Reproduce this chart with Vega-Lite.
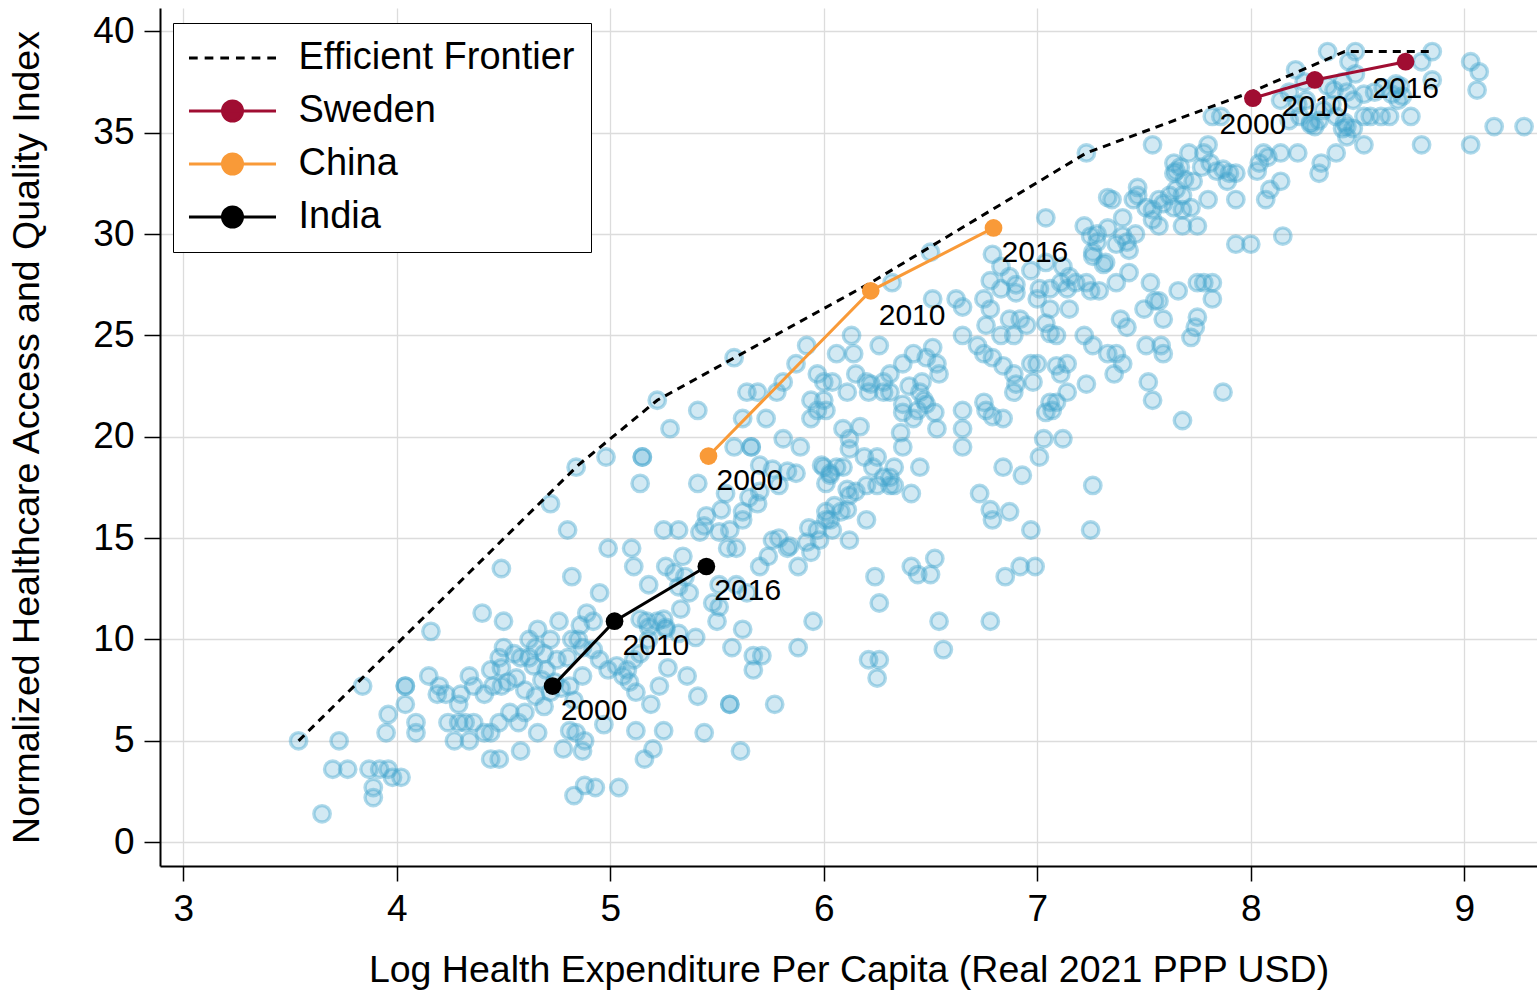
{
  "$schema": "https://vega.github.io/schema/vega-lite/v6.json",
  "width": 1377,
  "height": 858,
  "autosize": {"type": "none"},
  "padding": {"left": 160, "top": 8, "right": 0, "bottom": 128},
  "background": "white",
  "config": {
    "view": {"stroke": null},
    "font": "Liberation Sans",
    "axis": {
      "grid": true,
      "gridColor": "#dcdcdc",
      "gridWidth": 1.3,
      "domainColor": "black",
      "domainWidth": 2,
      "tickColor": "black",
      "tickWidth": 1.5,
      "labelFont": "Liberation Sans",
      "labelFontSize": 37,
      "labelColor": "black",
      "labelPadding": 10,
      "titleFont": "Liberation Sans",
      "titleFontSize": 37.5,
      "titleFontWeight": "normal",
      "titleColor": "black"
    }
  },
  "datasets": {
    "frontier": [
      {"x": 3.54, "y": 5.0}, {"x": 4.85, "y": 18.6}, {"x": 5.22, "y": 21.8}, {"x": 6.22, "y": 27.6},
      {"x": 7.23, "y": 34.0}, {"x": 8.0, "y": 37.0}, {"x": 8.44, "y": 39.0}, {"x": 8.86, "y": 39.0}
    ],
    "countries": [
      {"country": "Sweden", "year": "2000", "x": 8.01, "y": 36.7},
      {"country": "Sweden", "year": "2010", "x": 8.30, "y": 37.6},
      {"country": "Sweden", "year": "2016", "x": 8.725, "y": 38.5},
      {"country": "China", "year": "2000", "x": 5.46, "y": 19.05},
      {"country": "China", "year": "2010", "x": 6.22, "y": 27.2},
      {"country": "China", "year": "2016", "x": 6.795, "y": 30.3},
      {"country": "India", "year": "2000", "x": 4.73, "y": 7.7},
      {"country": "India", "year": "2010", "x": 5.02, "y": 10.9},
      {"country": "India", "year": "2016", "x": 5.45, "y": 13.6}
    ],
    "scatter": [
      {"x":4.49,"y":13.5},{"x":4.82,"y":13.1},{"x":4.40,"y":11.3},{"x":4.50,"y":10.9},{"x":4.16,"y":10.4},{"x":3.84,"y":7.7},{"x":3.54,"y":5.0},{"x":3.73,"y":5.0},{"x":4.04,"y":7.7},{"x":4.04,"y":7.7},
      {"x":4.04,"y":6.8},{"x":3.96,"y":6.3},{"x":3.95,"y":5.4},{"x":4.09,"y":5.9},{"x":4.09,"y":5.4},{"x":4.15,"y":8.2},{"x":4.20,"y":7.7},{"x":4.19,"y":7.3},{"x":4.23,"y":7.3},{"x":4.30,"y":7.3},
      {"x":4.29,"y":6.8},{"x":4.34,"y":8.2},{"x":4.36,"y":7.7},{"x":4.41,"y":7.3},{"x":4.44,"y":8.5},{"x":4.48,"y":9.1},{"x":4.49,"y":8.6},{"x":4.45,"y":7.7},{"x":4.49,"y":7.7},{"x":4.24,"y":5.9},
      {"x":4.29,"y":5.9},{"x":4.32,"y":5.9},{"x":4.36,"y":5.9},{"x":4.27,"y":5.0},{"x":4.34,"y":5.0},{"x":4.41,"y":5.4},{"x":4.44,"y":5.4},{"x":4.48,"y":5.9},{"x":4.53,"y":6.4},{"x":4.57,"y":5.9},
      {"x":4.60,"y":6.4},{"x":4.66,"y":5.4},{"x":4.58,"y":4.5},{"x":4.44,"y":4.1},{"x":4.48,"y":4.1},{"x":3.70,"y":3.6},{"x":3.77,"y":3.6},{"x":3.87,"y":3.6},{"x":3.92,"y":3.6},{"x":3.96,"y":3.6},
      {"x":3.98,"y":3.2},{"x":4.02,"y":3.2},{"x":3.89,"y":2.7},{"x":3.89,"y":2.2},{"x":3.65,"y":1.4},
      {"x":4.58,"y":9.1},{"x":4.62,"y":10.0},{"x":4.66,"y":10.5},{"x":4.65,"y":9.6},{"x":4.64,"y":8.7},{"x":4.62,"y":9.1},{"x":4.69,"y":9.3},{"x":4.72,"y":10.0},{"x":4.76,"y":10.9},{"x":4.70,"y":8.5},
      {"x":4.75,"y":9.0},{"x":4.80,"y":9.1},{"x":4.82,"y":10.0},{"x":4.86,"y":10.7},{"x":4.89,"y":11.3},{"x":4.92,"y":10.9},{"x":4.85,"y":10.0},{"x":4.87,"y":9.6},{"x":4.92,"y":9.5},{"x":4.95,"y":9.0},
      {"x":4.87,"y":8.2},{"x":4.81,"y":7.7},{"x":4.65,"y":7.2},{"x":4.69,"y":6.7},{"x":4.83,"y":7.0},{"x":4.99,"y":8.5},{"x":5.03,"y":8.7},{"x":5.08,"y":8.5},{"x":5.06,"y":8.2},{"x":5.11,"y":9.0},
      {"x":5.14,"y":9.3},{"x":5.18,"y":10.0},{"x":5.09,"y":7.9},{"x":5.12,"y":7.4},{"x":5.19,"y":6.8},{"x":5.23,"y":7.7},{"x":5.27,"y":8.6},{"x":5.17,"y":10.9},{"x":5.22,"y":10.9},{"x":5.26,"y":10.5},
      {"x":4.95,"y":12.3},{"x":5.11,"y":13.6},{"x":5.18,"y":12.7},{"x":5.26,"y":13.6},{"x":4.81,"y":5.5},{"x":4.84,"y":5.4},{"x":4.88,"y":5.0},{"x":4.87,"y":4.5},{"x":4.78,"y":4.6},{"x":4.97,"y":5.8},
      {"x":5.12,"y":5.5},{"x":5.25,"y":5.5},{"x":5.20,"y":4.6},{"x":5.16,"y":4.1},{"x":4.88,"y":2.8},{"x":4.93,"y":2.7},{"x":5.04,"y":2.7},{"x":4.83,"y":2.3},
      {"x":4.72,"y":7.4},{"x":4.74,"y":7.9},{"x":4.68,"y":8.0},{"x":4.77,"y":7.6},{"x":4.56,"y":8.1},{"x":4.60,"y":7.5},{"x":4.52,"y":7.9},{"x":4.55,"y":9.3},{"x":4.50,"y":9.6},
      {"x":5.22,"y":21.8},{"x":5.41,"y":21.3},{"x":5.28,"y":20.4},{"x":4.98,"y":19.0},{"x":5.15,"y":19.0},{"x":5.15,"y":19.0},{"x":4.84,"y":18.5},{"x":5.14,"y":17.7},{"x":5.41,"y":17.7},{"x":4.72,"y":16.7},
      {"x":4.80,"y":15.4},{"x":5.25,"y":15.4},{"x":5.32,"y":15.4},{"x":4.99,"y":14.5},{"x":5.10,"y":14.5},{"x":5.34,"y":14.1},{"x":5.44,"y":15.6},{"x":5.45,"y":16.1},{"x":5.42,"y":15.3},{"x":5.51,"y":15.3},
      {"x":5.55,"y":14.5},{"x":5.59,"y":14.5},{"x":5.52,"y":16.4},{"x":5.56,"y":15.4},{"x":5.48,"y":11.8},{"x":5.51,"y":11.6},{"x":5.51,"y":12.7},{"x":5.50,"y":10.9},{"x":5.33,"y":11.5},{"x":5.35,"y":13.1},
      {"x":5.30,"y":13.3},{"x":5.37,"y":12.3},{"x":5.40,"y":10.1},{"x":5.62,"y":10.5},{"x":5.57,"y":9.6},{"x":5.67,"y":9.2},{"x":5.71,"y":9.2},{"x":5.67,"y":8.5},{"x":5.88,"y":9.6},{"x":5.95,"y":10.9},
      {"x":5.76,"y":14.9},{"x":5.83,"y":14.5},{"x":5.70,"y":13.6},{"x":5.74,"y":14.1},{"x":5.88,"y":13.6},{"x":5.94,"y":14.3},{"x":5.93,"y":15.5},{"x":5.97,"y":15.4},{"x":6.01,"y":16.3},{"x":6.03,"y":15.9},
      {"x":5.98,"y":14.9},{"x":6.05,"y":16.6},{"x":5.79,"y":15.0},{"x":5.62,"y":15.9},{"x":5.54,"y":17.2},{"x":5.65,"y":17.0},{"x":5.69,"y":16.7},{"x":5.62,"y":16.3},{"x":5.70,"y":17.3},{"x":5.79,"y":17.6},
      {"x":5.70,"y":18.6},{"x":5.76,"y":18.4},{"x":5.83,"y":18.3},{"x":5.87,"y":18.2},{"x":5.99,"y":18.6},{"x":6.03,"y":18.2},{"x":6.01,"y":17.7},{"x":5.58,"y":19.5},{"x":5.66,"y":19.5},{"x":5.66,"y":19.5},
      {"x":5.73,"y":20.9},{"x":5.62,"y":20.9},{"x":5.81,"y":19.9},{"x":5.89,"y":19.5},{"x":5.94,"y":20.9},{"x":5.97,"y":21.3},{"x":6.01,"y":21.3},{"x":5.64,"y":22.2},{"x":5.69,"y":22.2},{"x":5.78,"y":22.2},
      {"x":5.94,"y":21.8},{"x":6.00,"y":22.7},
      {"x":5.58,"y":23.9},{"x":6.50,"y":29.1},{"x":6.32,"y":27.6},{"x":6.51,"y":26.8},{"x":6.62,"y":26.8},{"x":6.65,"y":26.4},{"x":7.04,"y":30.8},{"x":7.22,"y":30.4},{"x":7.25,"y":29.9},{"x":7.28,"y":29.6},
      {"x":6.79,"y":29.0},{"x":6.83,"y":28.4},{"x":6.87,"y":27.9},{"x":6.97,"y":28.2},{"x":7.04,"y":28.6},{"x":7.12,"y":28.4},{"x":7.15,"y":27.9},{"x":7.11,"y":27.6},{"x":7.14,"y":27.3},{"x":7.18,"y":27.6},
      {"x":6.78,"y":27.7},{"x":6.83,"y":27.3},{"x":6.90,"y":27.5},{"x":6.90,"y":27.1},{"x":7.01,"y":27.3},{"x":7.06,"y":27.3},{"x":7.00,"y":26.8},{"x":7.06,"y":26.3},{"x":7.15,"y":26.3},{"x":7.25,"y":27.2},
      {"x":7.26,"y":28.9},{"x":7.23,"y":27.6},{"x":6.75,"y":26.8},{"x":6.78,"y":26.3},{"x":6.76,"y":25.5},{"x":6.83,"y":25.0},{"x":6.87,"y":25.8},{"x":6.92,"y":25.8},{"x":6.89,"y":25.0},{"x":6.95,"y":25.5},
      {"x":7.04,"y":25.6},{"x":7.06,"y":25.1},{"x":7.09,"y":25.0},{"x":7.22,"y":25.0},{"x":7.26,"y":24.5},{"x":6.65,"y":25.0},{"x":6.72,"y":24.5},{"x":6.75,"y":24.1},{"x":6.79,"y":23.9},{"x":6.84,"y":23.5},
      {"x":6.89,"y":23.1},{"x":6.90,"y":22.6},{"x":6.97,"y":23.6},{"x":7.00,"y":23.6},{"x":6.98,"y":22.7},{"x":6.89,"y":22.2},{"x":7.09,"y":23.5},{"x":7.14,"y":23.6},{"x":7.11,"y":23.1},{"x":7.23,"y":22.6},
      {"x":7.14,"y":22.2},{"x":7.09,"y":21.7},{"x":7.06,"y":21.7},{"x":7.07,"y":21.3},{"x":7.04,"y":21.2},{"x":6.84,"y":20.9},{"x":6.79,"y":21.0},{"x":6.76,"y":21.3},{"x":6.75,"y":21.7},{"x":7.03,"y":19.9},
      {"x":7.12,"y":19.9},{"x":7.01,"y":19.0},{"x":6.84,"y":18.5},{"x":6.93,"y":18.1},{"x":6.73,"y":17.2},{"x":6.78,"y":16.4},{"x":6.87,"y":16.3},{"x":6.79,"y":15.9},{"x":6.97,"y":15.4},{"x":7.26,"y":17.6},
      {"x":7.25,"y":15.4},{"x":6.65,"y":21.3},{"x":6.65,"y":20.4},{"x":6.65,"y":19.5},{"x":6.53,"y":20.4},{"x":6.52,"y":21.2},{"x":6.47,"y":21.8},{"x":6.44,"y":21.3},{"x":6.42,"y":20.9},{"x":6.37,"y":21.2},
      {"x":6.31,"y":23.1},{"x":6.37,"y":23.6},{"x":6.42,"y":24.1},{"x":6.48,"y":23.9},{"x":6.53,"y":23.6},{"x":6.51,"y":24.4},{"x":6.54,"y":23.1},{"x":6.46,"y":22.7},{"x":6.40,"y":22.5},{"x":6.45,"y":22.2},
      {"x":6.48,"y":21.6},{"x":6.37,"y":21.6},{"x":6.28,"y":22.2},{"x":6.22,"y":22.6},{"x":6.28,"y":22.7},{"x":6.31,"y":22.2},{"x":6.13,"y":25.0},{"x":6.14,"y":24.1},{"x":6.26,"y":24.5},{"x":6.06,"y":24.1},
      {"x":6.04,"y":22.7},{"x":6.11,"y":22.2},{"x":6.15,"y":23.1},{"x":6.20,"y":22.7},{"x":6.21,"y":22.2},{"x":6.00,"y":21.8},{"x":5.97,"y":23.1},{"x":6.09,"y":20.4},{"x":6.12,"y":19.9},{"x":6.17,"y":20.5},
      {"x":6.12,"y":19.4},{"x":6.09,"y":18.5},{"x":6.19,"y":19.0},{"x":6.25,"y":19.0},{"x":6.23,"y":18.5},{"x":6.28,"y":18.0},{"x":6.31,"y":18.0},{"x":6.33,"y":18.5},{"x":6.33,"y":17.6},{"x":6.41,"y":17.2},
      {"x":6.45,"y":18.5},{"x":6.36,"y":20.2},{"x":6.37,"y":19.5},{"x":6.00,"y":18.5},{"x":6.03,"y":18.1},{"x":6.06,"y":18.5},{"x":6.11,"y":17.4},{"x":6.12,"y":17.1},{"x":6.08,"y":16.3},{"x":6.11,"y":16.4},
      {"x":6.15,"y":17.3},{"x":6.20,"y":17.6},{"x":6.25,"y":17.6},{"x":6.31,"y":17.6},{"x":6.01,"y":15.9},{"x":6.04,"y":15.4},{"x":5.92,"y":14.8},{"x":5.84,"y":14.6},{"x":6.12,"y":14.9},{"x":6.20,"y":15.9},
      {"x":5.92,"y":24.5},{"x":5.87,"y":23.6},{"x":5.81,"y":22.7},
      {"x":7.23,"y":34.0},{"x":7.54,"y":34.4},{"x":7.35,"y":31.7},{"x":7.33,"y":31.8},{"x":7.47,"y":32.3},{"x":7.47,"y":31.9},{"x":7.45,"y":31.7},{"x":7.40,"y":30.8},{"x":7.33,"y":30.3},{"x":7.28,"y":30.0},
      {"x":7.26,"y":29.1},{"x":7.31,"y":28.5},{"x":7.32,"y":28.6},{"x":7.37,"y":29.5},{"x":7.42,"y":29.6},{"x":7.43,"y":29.2},{"x":7.46,"y":30.0},{"x":7.40,"y":29.9},{"x":7.43,"y":28.1},{"x":7.37,"y":27.6},
      {"x":7.29,"y":27.2},{"x":7.51,"y":31.3},{"x":7.54,"y":31.2},{"x":7.57,"y":31.7},{"x":7.59,"y":31.5},{"x":7.62,"y":31.9},{"x":7.65,"y":32.2},{"x":7.64,"y":31.3},{"x":7.68,"y":31.2},{"x":7.72,"y":31.3},
      {"x":7.68,"y":30.4},{"x":7.75,"y":30.4},{"x":7.80,"y":31.7},{"x":7.68,"y":31.9},{"x":7.73,"y":32.6},{"x":7.69,"y":32.7},{"x":7.65,"y":33.1},{"x":7.64,"y":33.5},{"x":7.67,"y":33.3},{"x":7.71,"y":34.0},
      {"x":7.78,"y":34.0},{"x":7.81,"y":33.5},{"x":7.84,"y":33.1},{"x":7.87,"y":33.2},{"x":7.90,"y":33.0},{"x":7.93,"y":33.0},{"x":7.89,"y":32.6},{"x":7.93,"y":31.7},{"x":8.00,"y":29.5},{"x":7.93,"y":29.5},
      {"x":8.15,"y":29.9},{"x":8.09,"y":32.2},{"x":8.14,"y":32.6},{"x":8.07,"y":31.7},{"x":8.03,"y":33.1},{"x":8.04,"y":33.5},{"x":8.06,"y":34.0},{"x":8.14,"y":34.0},{"x":8.22,"y":34.0},{"x":8.28,"y":35.4},
      {"x":8.33,"y":33.5},{"x":8.32,"y":33.0},{"x":8.40,"y":34.0},{"x":8.45,"y":34.8},{"x":8.45,"y":35.3},{"x":7.53,"y":27.6},{"x":7.55,"y":26.7},{"x":7.59,"y":25.8},{"x":7.50,"y":26.3},{"x":7.39,"y":25.8},
      {"x":7.42,"y":25.4},{"x":7.75,"y":27.6},{"x":7.78,"y":27.6},{"x":7.82,"y":27.6},{"x":7.82,"y":26.8},{"x":7.75,"y":25.9},{"x":7.74,"y":25.4},{"x":7.72,"y":24.9},{"x":7.59,"y":24.1},{"x":7.51,"y":24.5},
      {"x":7.52,"y":22.7},{"x":7.54,"y":21.8},{"x":7.68,"y":20.8},{"x":7.87,"y":22.2},{"x":7.37,"y":24.1},{"x":7.33,"y":24.1},{"x":7.36,"y":23.1},{"x":7.40,"y":23.6},
      {"x":8.36,"y":39.0},{"x":8.49,"y":39.0},{"x":8.85,"y":39.0},{"x":8.80,"y":38.5},{"x":8.85,"y":37.6},{"x":9.03,"y":38.5},{"x":9.07,"y":38.0},{"x":9.06,"y":37.1},{"x":9.14,"y":35.3},{"x":9.28,"y":35.3},
      {"x":9.03,"y":34.4},{"x":8.80,"y":34.4},{"x":8.75,"y":35.8},{"x":8.69,"y":36.6},{"x":8.65,"y":35.8},{"x":8.61,"y":35.8},{"x":8.56,"y":35.8},{"x":8.53,"y":35.8},{"x":8.68,"y":37.4},{"x":8.62,"y":37.2},
      {"x":8.53,"y":36.9},{"x":8.45,"y":37.0},{"x":8.43,"y":37.5},{"x":8.49,"y":37.9},{"x":8.46,"y":38.5},{"x":8.21,"y":38.1},{"x":8.25,"y":37.5},{"x":8.18,"y":37.0},{"x":8.14,"y":36.6},{"x":8.22,"y":36.4},
      {"x":8.26,"y":36.6},{"x":8.23,"y":35.8},{"x":8.18,"y":35.6},{"x":8.28,"y":35.5},{"x":8.32,"y":35.6},{"x":8.34,"y":36.1},{"x":8.38,"y":36.4},{"x":8.39,"y":37.1},{"x":8.36,"y":37.3},{"x":8.43,"y":35.2},
      {"x":8.53,"y":34.4},{"x":8.48,"y":35.2},{"x":8.08,"y":33.8},{"x":7.82,"y":35.8},{"x":7.86,"y":35.8},{"x":7.80,"y":34.4},{"x":7.77,"y":33.3},{"x":7.64,"y":33.0},{"x":7.54,"y":30.7},{"x":7.57,"y":30.4},
      {"x":8.30,"y":35.3},{"x":8.40,"y":35.8},{"x":8.44,"y":35.5},{"x":8.71,"y":36.8},{"x":8.48,"y":36.6},{"x":8.66,"y":36.9},{"x":8.70,"y":37.3},{"x":8.58,"y":37.0},
      {"x":7.66,"y":27.2},{"x":7.57,"y":26.7},{"x":7.58,"y":24.5},
      {"x":6.24,"y":13.1},{"x":6.26,"y":11.8},{"x":6.41,"y":13.6},{"x":6.44,"y":13.2},{"x":6.50,"y":13.2},{"x":6.52,"y":14.0},{"x":6.54,"y":10.9},{"x":6.56,"y":9.5},{"x":6.78,"y":10.9},{"x":6.85,"y":13.1},
      {"x":6.92,"y":13.6},{"x":6.99,"y":13.6},{"x":6.21,"y":9.0},{"x":6.26,"y":9.0},{"x":6.25,"y":8.1},
      {"x":5.77,"y":6.8},{"x":5.61,"y":4.5},{"x":5.56,"y":6.8},{"x":5.56,"y":6.8},{"x":5.44,"y":5.4},{"x":5.41,"y":7.2},{"x":5.36,"y":8.2},{"x":5.59,"y":12.7},{"x":5.64,"y":12.3},{"x":5.32,"y":12.6},
      {"x":5.25,"y":11.0},{"x":5.18,"y":10.6},{"x":5.26,"y":10.6},{"x":5.32,"y":10.3},{"x":5.14,"y":11.0}
    ]
  },
  "layer": [
    {
      "data": {"name": "scatter"},
      "mark": {"type": "circle", "size": 270, "fill": "#41a5cd", "fillOpacity": 0.24, "stroke": "#41a5cd", "strokeOpacity": 0.42, "strokeWidth": 3.4},
      "encoding": {
        "x": {
          "field": "x", "type": "quantitative",
          "scale": {"domain": [2.891, 9.3406], "nice": false, "zero": false},
          "axis": {"values": [3, 4, 5, 6, 7, 8, 9], "format": "d", "tickSize": 15, "title": "Log Health Expenditure Per Capita (Real 2021 PPP USD)", "titlePadding": 24}
        },
        "y": {
          "field": "y", "type": "quantitative",
          "scale": {"domain": [-1.174, 41.15], "nice": false, "zero": false},
          "axis": {"values": [0, 5, 10, 15, 20, 25, 30, 35, 40], "format": "d", "tickSize": 16, "title": "Normalized Healthcare Access and Quality Index", "titlePadding": 46}
        }
      }
    },
    {
      "data": {"name": "frontier"},
      "mark": {"type": "line", "color": "black", "strokeWidth": 3, "strokeDash": [8, 6]},
      "encoding": {
        "x": {"field": "x", "type": "quantitative"},
        "y": {"field": "y", "type": "quantitative"}
      }
    },
    {
      "data": {"name": "countries"},
      "mark": {"type": "line", "strokeWidth": 3},
      "encoding": {
        "x": {"field": "x", "type": "quantitative"},
        "y": {"field": "y", "type": "quantitative"},
        "color": {"field": "country", "type": "nominal", "scale": {"domain": ["Sweden", "China", "India"], "range": ["#a00d32", "#f99a38", "#000000"]}, "legend": null}
      }
    },
    {
      "data": {"name": "countries"},
      "mark": {"type": "circle", "size": 314, "opacity": 1},
      "encoding": {
        "x": {"field": "x", "type": "quantitative"},
        "y": {"field": "y", "type": "quantitative"},
        "color": {"field": "country", "type": "nominal", "legend": null}
      }
    },
    {
      "data": {"name": "countries"},
      "transform": [{"filter": "datum.country !== 'Sweden'"}],
      "mark": {"type": "text", "align": "left", "baseline": "middle", "dx": 8, "dy": 25, "fontSize": 30, "font": "Liberation Sans", "color": "black"},
      "encoding": {
        "x": {"field": "x", "type": "quantitative"},
        "y": {"field": "y", "type": "quantitative"},
        "text": {"field": "year", "type": "nominal"}
      }
    },
    {
      "data": {"name": "countries"},
      "transform": [{"filter": "datum.country === 'Sweden'"}],
      "mark": {"type": "text", "align": "center", "baseline": "middle", "dx": 0, "dy": 27, "fontSize": 30, "font": "Liberation Sans", "color": "black"},
      "encoding": {
        "x": {"field": "x", "type": "quantitative"},
        "y": {"field": "y", "type": "quantitative"},
        "text": {"field": "year", "type": "nominal"}
      }
    },
    {
      "data": {"name": "countries"},
      "mark": {"type": "point", "filled": true, "size": 0, "opacity": 0, "strokeWidth": 3},
      "encoding": {
        "x": {"field": "x", "type": "quantitative"},
        "y": {"field": "y", "type": "quantitative"},
        "fill": {
          "field": "country", "type": "nominal",
          "scale": {"domain": ["Efficient Frontier", "Sweden", "China", "India"], "range": ["#000000", "#a00d32", "#f99a38", "#000000"]},
          "legend": {"title": null, "orient": "none", "legendX": 13, "legendY": 15, "symbolSize": 1225, "symbolOffset": 24.5, "symbolStrokeWidth": 3, "symbolOpacity": 1, "labelFontSize": 38, "labelFont": "Liberation Sans", "labelColor": "black", "labelOffset": 47, "padding": 16, "rowPadding": 15, "strokeColor": "black", "fillColor": "white", "labelLimit": 0}
        },
        "stroke": {
          "field": "country", "type": "nominal",
          "scale": {"domain": ["Efficient Frontier", "Sweden", "China", "India"], "range": ["#000000", "#a00d32", "#f99a38", "#000000"]},
          "legend": {"title": null, "orient": "none", "legendX": 13, "legendY": 15, "symbolSize": 1225, "symbolOffset": 24.5, "symbolStrokeWidth": 3, "symbolOpacity": 1, "labelFontSize": 38, "labelFont": "Liberation Sans", "labelColor": "black", "labelOffset": 47, "padding": 16, "rowPadding": 15, "strokeColor": "black", "fillColor": "white", "labelLimit": 0}
        },
        "shape": {
          "field": "country", "type": "nominal",
          "scale": {"domain": ["Efficient Frontier", "Sweden", "China", "India"], "range": [
            "M-2.486,0L-1.989,0M-1.591,0L-1.094,0M-0.696,0L-0.199,0M0.199,0L0.696,0M1.094,0L1.591,0M1.989,0L2.486,0",
            "M-2.486,0L2.486,0M-0.571,0A0.571,0.571,0,1,1,0.571,0A0.571,0.571,0,1,1,-0.571,0Z",
            "M-2.486,0L2.486,0M-0.571,0A0.571,0.571,0,1,1,0.571,0A0.571,0.571,0,1,1,-0.571,0Z",
            "M-2.486,0L2.486,0M-0.571,0A0.571,0.571,0,1,1,0.571,0A0.571,0.571,0,1,1,-0.571,0Z"
          ]},
          "legend": {"title": null, "orient": "none", "legendX": 13, "legendY": 15, "symbolSize": 1225, "symbolOffset": 24.5, "symbolStrokeWidth": 3, "symbolOpacity": 1, "labelFontSize": 38, "labelFont": "Liberation Sans", "labelColor": "black", "labelOffset": 47, "padding": 16, "rowPadding": 15, "strokeColor": "black", "fillColor": "white", "labelLimit": 0}
        }
      }
    }
  ]
}
